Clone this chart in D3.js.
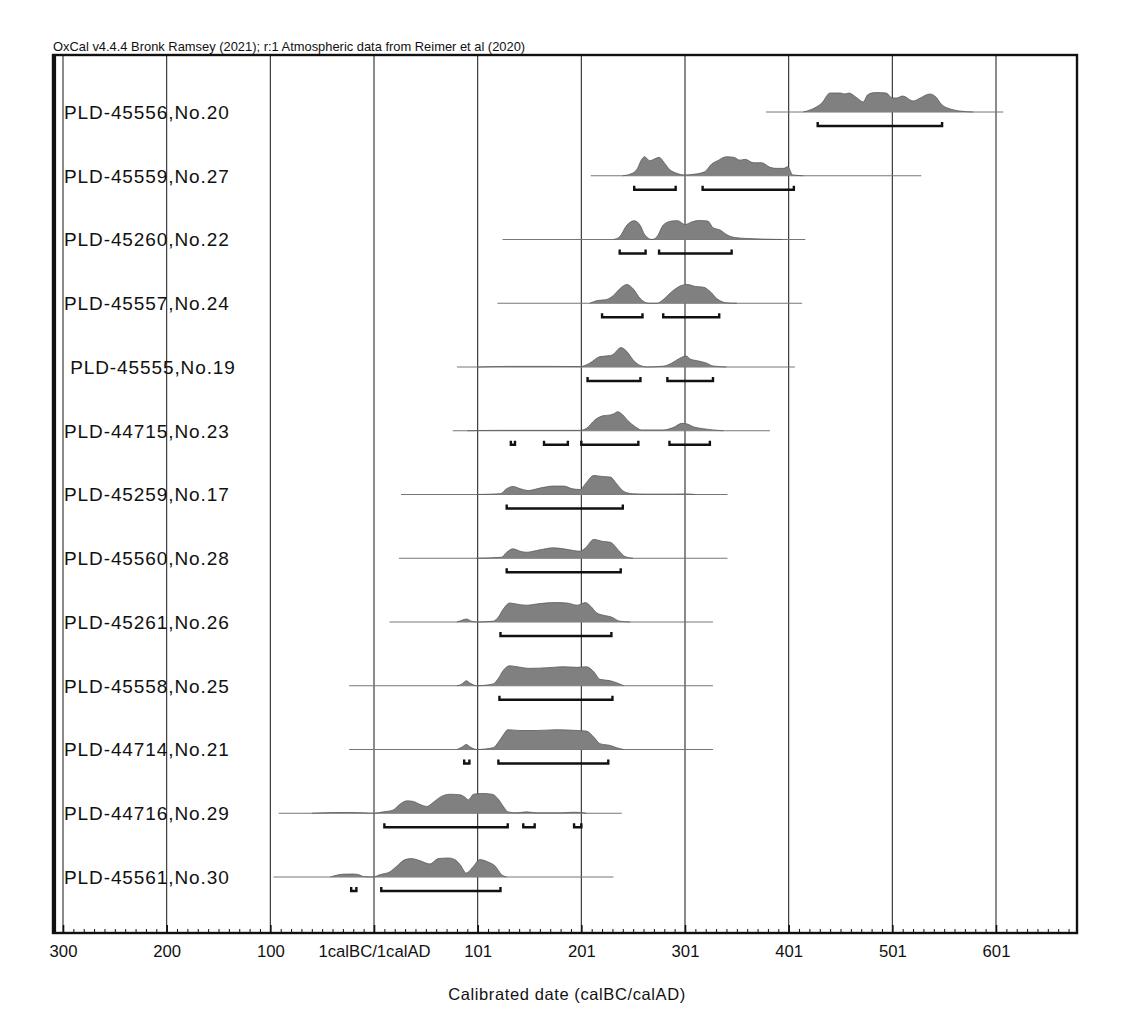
<!DOCTYPE html>
<html>
<head>
<meta charset="utf-8">
<script src="https://cdn.jsdelivr.net/npm/d3@7"></script>
<style>
  html, body { margin: 0; padding: 0; background: #fff; }
  svg { display: block; font-family: "Liberation Sans", Arial, sans-serif; }
</style>
</head>
<body>
<svg id="chart" width="1133" height="1031"></svg>
<script>
// ---------------- DATA ----------------
const headerText = "OxCal v4.4.4 Bronk Ramsey (2021); r:1 Atmospheric data from Reimer et al (2020)";
const axisTitle = "Calibrated date (calBC/calAD)";

const labels = [
  "PLD-45556,No.20", "PLD-45559,No.27", "PLD-45260,No.22", "PLD-45557,No.24",
  " PLD-45555,No.19", "PLD-44715,No.23", "PLD-45259,No.17", "PLD-45560,No.28",
  "PLD-45261,No.26", "PLD-45558,No.25", "PLD-44714,No.21", "PLD-44716,No.29",
  "PLD-45561,No.30"
];

// extent of the thin baseline of each likelihood (years; negative = BC, 0 = 1calBC/1calAD)
const lineStart = [378, 209, 124, 119, 80, 76, 26, 24, 15, -24, -24, -92, -97];
const lineEnd   = [607, 528, 416, 413, 406, 382, 341, 341, 327, 327, 327, 239, 231];

// probability profiles [year, relative probability 0-100]
const dens20 = [[414,0],[423,15],[432,45],[440,95],[450,95],[454,90],[458,95],[466,70],[472,50],[476,85],[483,97],[494,95],[500,70],[504,70],[510,80],[520,55],[527,70],[536,90],[541,80],[548,35],[556,15],[565,5],[578,0]];
const dens27 = [[240,0],[249,12],[254,35],[258,80],[261,95],[266,75],[271,85],[275,92],[280,65],[285,32],[292,12],[300,4],[308,7],[319,20],[326,60],[331,74],[340,95],[347,92],[353,78],[358,82],[366,65],[374,65],[382,42],[388,37],[395,37],[399,45],[404,4],[414,0]];
const dens22 = [[231,0],[237,14],[244,72],[251,94],[257,69],[261,25],[268,0],[273,14],[279,72],[287,92],[293,94],[300,75],[307,89],[314,95],[322,92],[327,59],[334,47],[340,25],[348,10],[360,5],[375,2],[394,0]];
const dens24 = [[208,0],[216,14],[223,17],[231,39],[237,72],[244,94],[250,72],[257,22],[265,0],[273,0],[278,14],[286,52],[293,80],[302,94],[310,84],[318,80],[324,60],[331,22],[340,2],[350,0]];
const dens19 = [[100,0],[130,3],[170,3],[199,2],[208,19],[218,52],[228,57],[232,69],[238,97],[244,77],[250,35],[257,7],[263,0],[279,4],[287,19],[295,44],[301,55],[305,40],[313,30],[321,19],[327,5],[340,0]];
const dens23 = [[90,0],[120,2],[180,2],[199,2],[205,12],[213,54],[221,75],[228,79],[231,84],[235,95],[240,79],[245,50],[252,20],[258,4],[279,4],[289,17],[297,37],[302,34],[308,20],[318,10],[327,4],[337,0]];
const dens17 = [[99,0],[122,4],[128,29],[134,40],[141,29],[149,20],[160,32],[173,42],[183,42],[191,29],[199,25],[204,54],[212,95],[220,90],[228,87],[234,54],[241,15],[249,4],[263,2],[290,2],[300,3],[310,0]];
const dens28 = [[99,0],[123,5],[128,30],[134,47],[141,35],[147,30],[160,42],[173,52],[183,47],[192,39],[199,35],[204,52],[212,94],[221,84],[228,80],[236,39],[242,9],[250,0]];
const dens26 = [[80,0],[85,9],[89,15],[94,4],[99,0],[115,4],[120,25],[125,67],[131,95],[138,89],[147,84],[160,92],[173,97],[186,95],[196,84],[204,97],[208,84],[215,45],[221,34],[229,25],[237,4],[247,0]];
const dens25 = [[80,0],[85,9],[89,25],[93,12],[99,0],[115,9],[120,37],[125,79],[131,100],[138,95],[150,87],[167,90],[183,95],[196,92],[205,95],[212,70],[218,32],[228,25],[234,15],[241,0]];
const dens21 = [[80,0],[85,12],[89,25],[93,12],[99,0],[115,9],[120,37],[125,75],[129,99],[141,95],[157,95],[176,99],[196,95],[205,92],[212,62],[218,29],[228,20],[234,9],[241,0]];
const dens29 = [[-60,0],[-45,3],[-25,4],[-10,2],[-1,0],[9,7],[18,15],[25,45],[32,62],[38,59],[44,45],[51,34],[57,54],[65,84],[73,95],[83,92],[88,79],[91,67],[96,95],[104,99],[114,95],[120,70],[125,32],[129,7],[138,2],[147,7],[157,2],[180,2],[192,5],[199,4],[205,0]];
const dens30 = [[-42,0],[-36,9],[-30,14],[-20,15],[-15,12],[-10,2],[-1,0],[6,12],[15,25],[22,54],[30,87],[36,92],[44,82],[54,65],[62,92],[72,95],[78,87],[83,62],[89,20],[96,54],[102,87],[110,75],[117,54],[123,12],[128,0]];
const densities = [dens20, dens27, dens22, dens24, dens19, dens23, dens17, dens28, dens26, dens25, dens21, dens29, dens30];

// 95.4% ranges (years)
const ranges = [
  [[428,548]],
  [[251,291],[317,405]],
  [[237,262],[275,345]],
  [[220,259],[279,333]],
  [[206,257],[283,327]],
  [[132,136],[164,187],[200,255],[285,324]],
  [[128,240]],
  [[128,238]],
  [[122,229]],
  [[121,230]],
  [[87,92],[120,226]],
  [[10,129],[144,155],[193,200]],
  [[-22,-17],[7,122]]
];

const majorTicks = [-300, -200, -100, 0, 100, 200, 300, 400, 500, 600];
const tickLabels = ["300", "200", "100", "1calBC/1calAD", "101", "201", "301", "401", "501", "601"];

// ---------------- LAYOUT ----------------
const svg = d3.select("#chart");
const frame = { left: 53, right: 1077, top: 55, bottom: 933 };

const x = d3.scaleLinear().domain([-300, 600]).range([63, 996]);
const y = d3.scalePoint().domain(d3.range(labels.length)).range([112, 877]);
const h = d3.scaleLinear().domain([0, 100]).range([0, 20]);
const bracketOffset = 14, bracketTick = 4;

// header
svg.append("text").attr("x", frame.left).attr("y", 51)
  .attr("font-size", 12.9).attr("fill", "#111").text(headerText);

// gridlines
svg.append("g").selectAll("line").data(majorTicks).join("line")
  .attr("x1", d => x(d)).attr("x2", d => x(d))
  .attr("y1", frame.top).attr("y2", frame.bottom)
  .attr("stroke", "#2a2a2a").attr("stroke-width", 1.1);

// rows
const rows = svg.append("g").selectAll("g").data(labels).join("g")
  .attr("transform", (d, i) => `translate(0,${y(i)})`);

rows.append("line")
  .attr("x1", (d, i) => x(lineStart[i])).attr("x2", (d, i) => x(lineEnd[i]))
  .attr("stroke", "#777").attr("stroke-width", 1);

const area = d3.area().curve(d3.curveMonotoneX)
  .x(d => x(d[0])).y0(0).y1(d => -h(d[1]));
const topLine = d3.line().curve(d3.curveMonotoneX)
  .x(d => x(d[0])).y(d => -h(d[1]));

rows.append("path").attr("d", (d, i) => area(densities[i]))
  .attr("fill", "#808080");
rows.append("path").attr("d", (d, i) => topLine(densities[i]))
  .attr("fill", "none").attr("stroke", "#5a5a5a").attr("stroke-width", 0.8);

rows.each(function (d, i) {
  d3.select(this).selectAll("path.br").data(ranges[i]).join("path")
    .attr("class", "br")
    .attr("d", r => {
      const x0 = x(r[0]), x1 = x(r[1]), yb = bracketOffset;
      return `M${x0},${yb - bracketTick}V${yb}H${x1}V${yb - bracketTick}`;
    })
    .attr("fill", "none").attr("stroke", "#111").attr("stroke-width", 2.4);
});

rows.append("text")
  .attr("x", 64).attr("y", 0).attr("dy", "0.36em")
  .attr("font-size", 19).attr("letter-spacing", 0.9).attr("fill", "#111")
  .style("white-space", "pre")
  .text(d => d);

// bottom axis (ticks pointing up into the frame)
const minorTicks = d3.range(-300, 680, 10).filter(v => majorTicks.indexOf(v) < 0);
svg.append("g").attr("transform", `translate(0,${frame.bottom})`)
  .call(d3.axisBottom(x).tickValues(minorTicks).tickSize(-4).tickFormat(""))
  .call(g => g.select(".domain").remove())
  .call(g => g.selectAll(".tick line").attr("stroke", "#111").attr("stroke-width", 1));

svg.append("g").attr("transform", `translate(0,${frame.bottom})`)
  .call(d3.axisBottom(x).tickValues(majorTicks).tickSize(-8).tickPadding(12)
    .tickFormat((d, i) => tickLabels[i]))
  .call(g => g.select(".domain").remove())
  .call(g => g.selectAll(".tick line").attr("stroke", "#111").attr("stroke-width", 1.6))
  .call(g => g.selectAll(".tick text").attr("font-size", 16.7).attr("fill", "#111")
    .attr("font-family", "Liberation Sans, Arial, sans-serif"));

// frame
svg.append("rect")
  .attr("x", frame.left).attr("y", frame.top)
  .attr("width", frame.right - frame.left).attr("height", frame.bottom - frame.top)
  .attr("fill", "none").attr("stroke", "#111").attr("stroke-width", 2.4);
svg.append("line")
  .attr("x1", frame.left + 2).attr("x2", frame.left + 2)
  .attr("y1", frame.top).attr("y2", frame.bottom)
  .attr("stroke", "#111").attr("stroke-width", 2.2);

// axis title
svg.append("text").attr("x", (frame.left + frame.right) / 2 + 2).attr("y", 1000)
  .attr("text-anchor", "middle").attr("font-size", 16.5).attr("letter-spacing", 0.6).attr("fill", "#111")
  .text(axisTitle);
</script>
</body>
</html>
